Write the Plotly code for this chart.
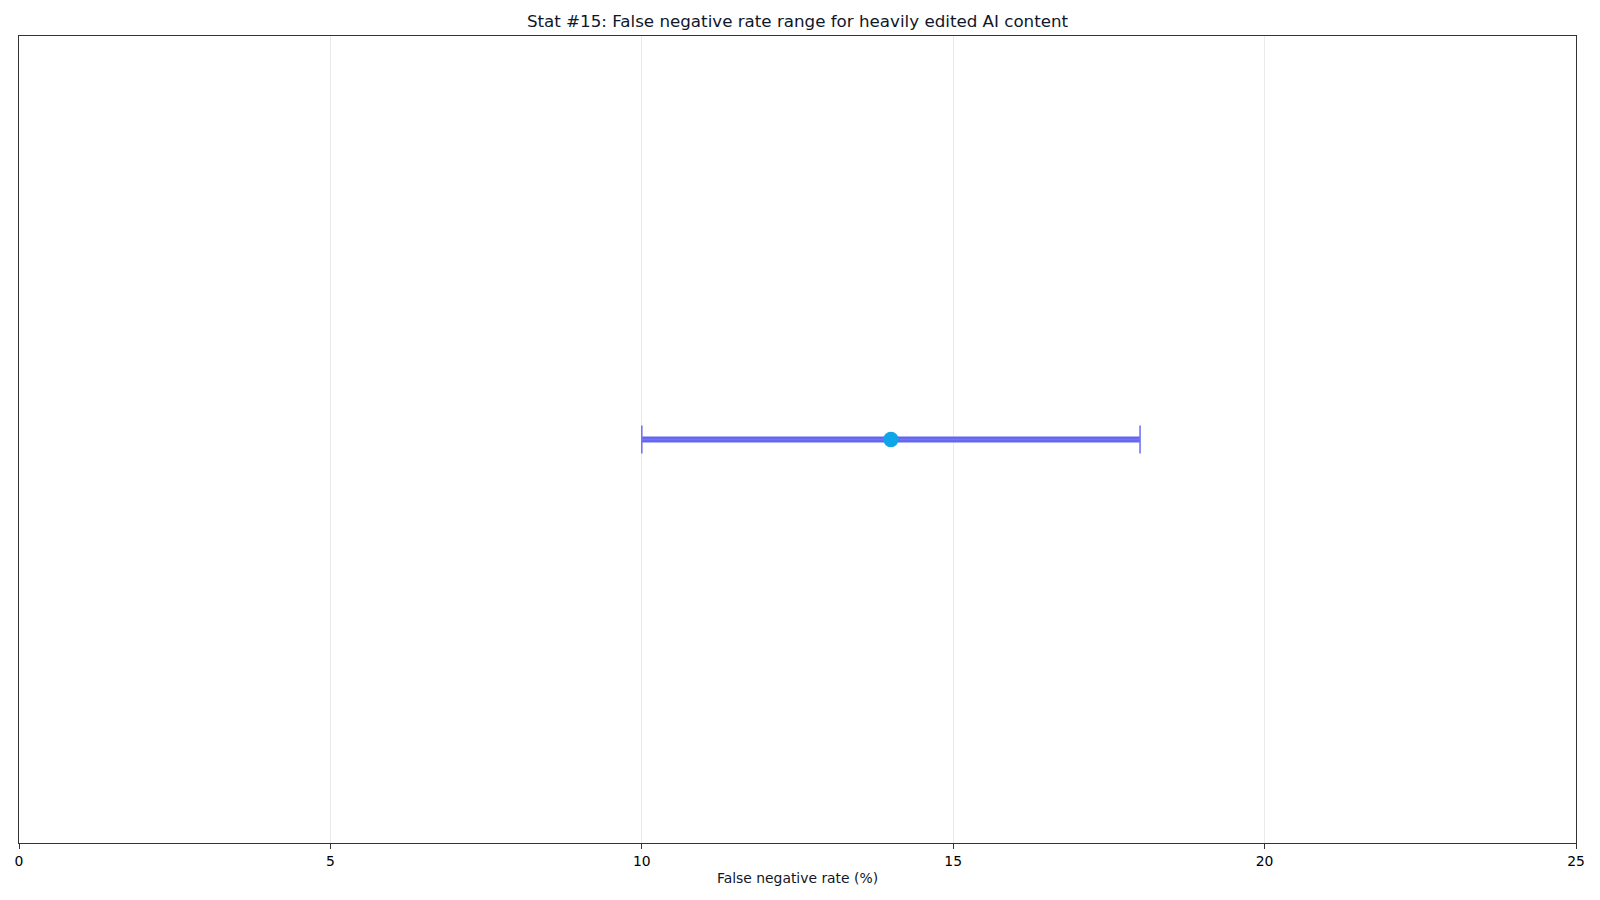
import plotly.graph_objects as go

# range stat for heavily edited AI content
labels = ["Heavily edited AI content"]
low = [10]
high = [18]
mid = [14]

x_ticks = [0, 5, 10, 15, 20, 25]
x_tick_text = ["0", "5", "10", "15", "20", "25"]

fig = go.Figure()

# thick range bar
for i, lab in enumerate(labels):
    fig.add_trace(go.Scatter(
        x=[low[i], high[i]], y=[lab, lab],
        mode="lines",
        line=dict(color="#6366F1", width=5.8),
        hoverinfo="skip", showlegend=False,
    ))

# caps + point
fig.add_trace(go.Scatter(
    x=mid, y=labels,
    mode="markers",
    marker=dict(color="#0EA5E9", size=15.5),
    error_x=dict(
        type="data", symmetric=False,
        array=[h - m for h, m in zip(high, mid)],
        arrayminus=[m - l for m, l in zip(mid, low)],
        color="#7376F2", thickness=1.6, width=14,
    ),
    showlegend=False,
))

fig.update_layout(
    width=1600, height=900,
    paper_bgcolor="white", plot_bgcolor="white",
    margin=dict(l=19, r=24, t=36, b=57),
    font=dict(family="DejaVu Sans", color="#0f172a", size=13.9),
    title=dict(
        text="Stat #15: False negative rate range for heavily edited AI content",
        x=0.5, xref="paper", xanchor="center",
        y=1 - 21.5 / 900, yanchor="middle",
        font=dict(size=16.7, color="#0f172a"),
    ),
    xaxis=dict(
        range=[0, 25],
        tickvals=x_ticks, ticktext=x_tick_text,
        showgrid=True, gridcolor="#ebebeb", gridwidth=1,
        zeroline=False,
        showline=True, linecolor="#333", linewidth=1.1, mirror=True,
        ticks="outside", ticklen=5, tickcolor="#333", tickwidth=1.1,
        tickfont=dict(size=13.9, color="black"),
        title=dict(text="False negative rate (%)", font=dict(size=13.9, color="#0f172a"), standoff=5),
    ),
    yaxis=dict(
        showticklabels=False, ticks="", showgrid=False, zeroline=False,
        showline=True, linecolor="#333", linewidth=1.1, mirror=True,
        range=[-0.5, 0.5],
    ),
)

fig.write_html(
    "out.html",
    config={"displayModeBar": False},
    post_script="document.body.style.margin='0';document.body.style.overflow='hidden';",
)
